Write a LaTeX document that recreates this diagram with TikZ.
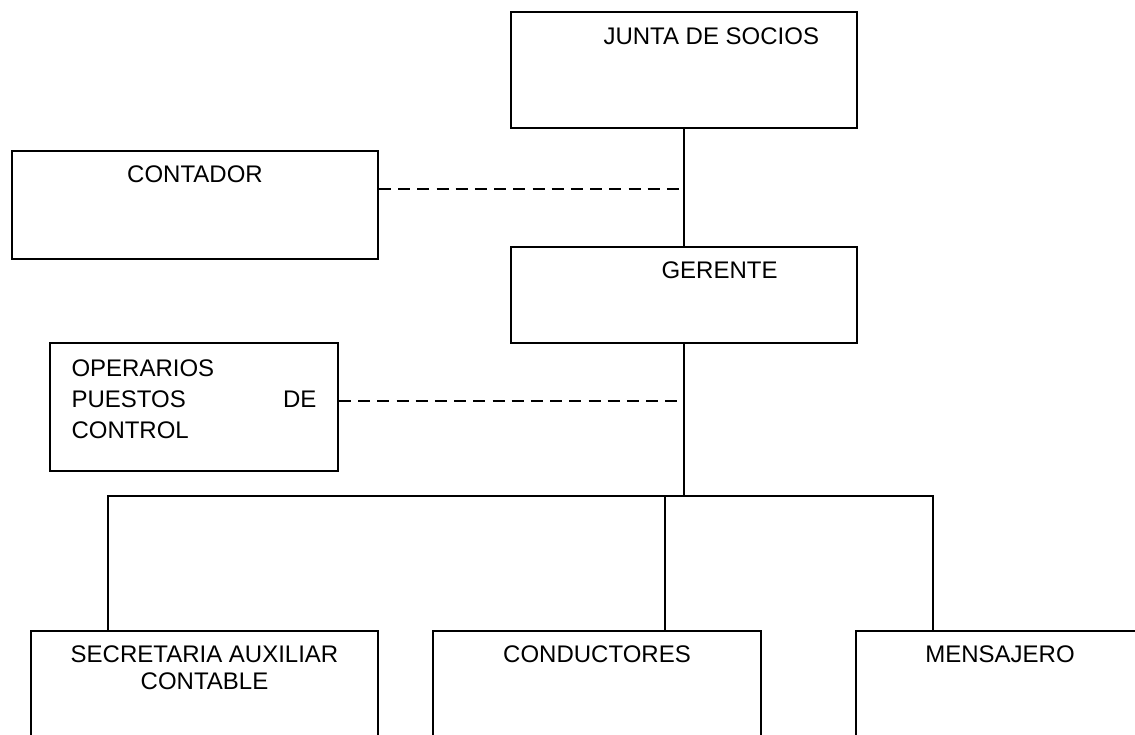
\documentclass[tikz,border=0pt]{standalone}
\usepackage{fontspec}
\setmainfont{Liberation Sans}
\usetikzlibrary{positioning}

\tikzset{
  caja/.style={draw,rectangle,line width=0.9pt,inner sep=0pt},
  rotulo/.style={inner sep=0pt,align=center,font=\fontsize{12}{13.5}\selectfont},
  linea/.style={line width=0.9pt},
  raya/.style={line width=0.9pt,dash pattern=on 6pt off 3.6pt}
}

\begin{document}
\begin{tikzpicture}[x=0.5pt,y=-0.5pt]
\useasboundingbox (0,0) rectangle (1135,734);
\clip (0,0) rectangle (1135,734);

% cajas
\node[caja,minimum width=173pt,minimum height=58pt](junta) at (684,70) {};
\node[caja,minimum width=183pt,minimum height=54pt](contador) at (195,205) {};
\node[caja,minimum width=173pt,minimum height=48pt](gerente) at (684,295) {};
\node[caja,minimum width=144pt,minimum height=64pt](operarios) at (194,407) {};
\node[caja,minimum width=173.5pt,minimum height=70pt](secretaria) at (204.5,701) {};
\node[caja,minimum width=164pt,minimum height=70pt](conductores) at (597,701) {};
\node[caja,minimum width=144pt,minimum height=70pt](mensajero) at (1000,701) {};

% textos
\node[rotulo,anchor=base west](tjunta) at ([xshift=46.5pt,yshift=-16.8pt]junta.north west) {JUNTA DE SOCIOS};
\node[rotulo,below=16.3pt of contador.north,anchor=base](tcontador){CONTADOR};
\node[rotulo,anchor=base west](tgerente) at ([xshift=75.5pt,yshift=-16.3pt]gerente.north west) {GERENTE};
\node[rotulo,align=left,text width=122.5pt,font=\fontsize{12}{15.5}\selectfont,anchor=base west]
  (toperarios) at ([xshift=11pt,yshift=-17.3pt]operarios.north west)
  {OPERARIOS\\ PUESTOS\hfill DE\\ CONTROL};
\node[rotulo,below=29.8pt of secretaria.north,anchor=base](tsecretaria){SECRETARIA AUXILIAR\\ CONTABLE};
\node[rotulo,below=16.3pt of conductores.north,anchor=base](tconductores){CONDUCTORES};
\node[rotulo,below=16.3pt of mensajero.north,anchor=base](tmensajero){MENSAJERO};

% lineas
\coordinate (r1) at (108,496);
\coordinate (r2) at (665,496);
\coordinate (r3) at (933,496);

\draw[linea] (junta) -- (gerente);
\draw[raya] ([yshift=8pt]contador.east) -- ([yshift=8pt]contador.east -| junta.south);
\draw[linea] (gerente.south) -- (gerente.south |- r1);
\draw[raya] ([yshift=3pt]operarios.east) -- ([yshift=3pt]operarios.east -| gerente.south);
\draw[linea] (secretaria.north -| r1) -- (r1) -- (r3) -- (mensajero.north -| r3);
\draw[linea] (r2) -- (conductores.north -| r2);
\end{tikzpicture}
\end{document}
